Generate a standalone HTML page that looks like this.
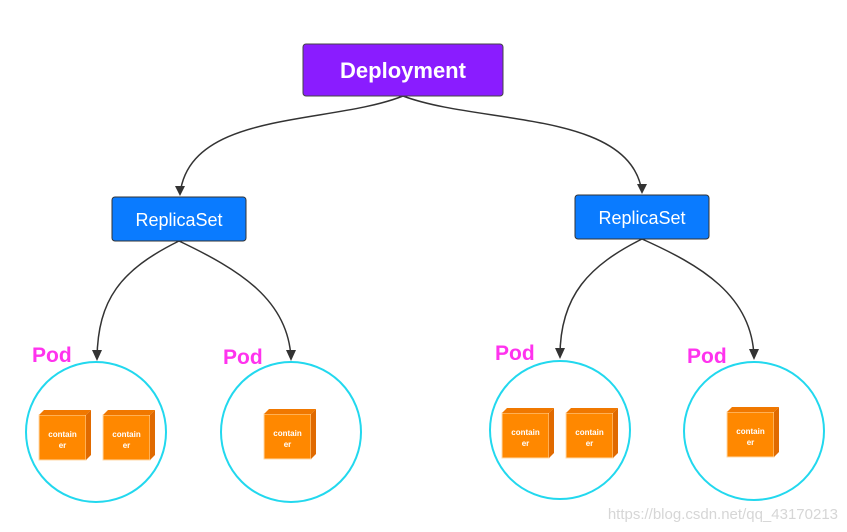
<!DOCTYPE html>
<html><head><meta charset="utf-8"><style>
html,body{margin:0;padding:0;background:#fff;}
svg{display:block;}
text{font-family:"Liberation Sans",sans-serif;}
</style></head><body>
<svg width="847" height="532" viewBox="0 0 847 532" xmlns="http://www.w3.org/2000/svg">
<defs>
<marker id="a" markerWidth="10" markerHeight="10" refX="5" refY="9" orient="auto" markerUnits="userSpaceOnUse" viewBox="0 0 10 10">
<path d="M0,0 L5,10 L10,0 L5,3 Z" fill="#333" transform="rotate(0)"/>
</marker>
<g id="c">
<rect x="0" y="5" width="47" height="45" fill="#ff8800" stroke="#ffd9a8" stroke-width="1"/>
<polygon points="0,5 5,0 52,0 47,5" fill="#f07800"/>
<polygon points="47,5 52,0 52,45 47,50" fill="#e06a00"/>
<text x="23.5" y="27" font-size="8" font-weight="bold" fill="#fff" text-anchor="middle">contain</text>
<text x="23.5" y="38" font-size="8" font-weight="bold" fill="#fff" text-anchor="middle">er</text>
</g>
</defs>
<g fill="none" stroke="#333" stroke-width="1.5">
<path d="M403,96 C330,125 190,110 180,194"/>
<path d="M403,96 C480,125 630,110 642,192"/>
<path d="M179,241 C120,270 98,300 97,358"/>
<path d="M179,241 C240,270 288,300 291,358"/>
<path d="M642,239 C590,265 560,295 560,356"/>
<path d="M642,239 C700,265 752,295 754,357"/>
</g>
<g fill="#333">
<path d="M175,186 L180,196 L185,186 Z"/>
<path d="M637,184 L642,194 L647,184 Z"/>
<path d="M92,350 L97,361 L102,350 Z"/>
<path d="M286,350 L291,361 L296,350 Z"/>
<path d="M555,348 L560,359 L565,348 Z"/>
<path d="M749,349 L754,360 L759,349 Z"/>
</g>
<rect x="303" y="44" width="200" height="52" rx="3" fill="#8a1cff" stroke="#444" stroke-width="1"/>
<text x="403" y="78" font-size="22" font-weight="bold" fill="#fff" text-anchor="middle">Deployment</text>
<rect x="112" y="197" width="134" height="44" rx="3" fill="#0a7bff" stroke="#333" stroke-width="1"/>
<text x="179" y="226" font-size="18" fill="#fff" text-anchor="middle">ReplicaSet</text>
<rect x="575" y="195" width="134" height="44" rx="3" fill="#0a7bff" stroke="#333" stroke-width="1"/>
<text x="642" y="224" font-size="18" fill="#fff" text-anchor="middle">ReplicaSet</text>
<g fill="none" stroke="#22d8ee" stroke-width="2">
<ellipse cx="96" cy="432" rx="70" ry="70"/>
<ellipse cx="291" cy="432" rx="70" ry="70"/>
<ellipse cx="560" cy="430" rx="70" ry="69"/>
<ellipse cx="754" cy="431" rx="70" ry="69"/>
</g>
<g font-size="21" font-weight="bold" fill="#ff33ee">
<text x="32" y="362">Pod</text>
<text x="223" y="364">Pod</text>
<text x="495" y="360">Pod</text>
<text x="687" y="363">Pod</text>
</g>
<use href="#c" x="39" y="410"/>
<use href="#c" x="103" y="410"/>
<use href="#c" x="264" y="409"/>
<use href="#c" x="502" y="408"/>
<use href="#c" x="566" y="408"/>
<use href="#c" x="727" y="407"/>
<text x="838" y="519" font-size="15" fill="#d6d6d6" text-anchor="end">https://blog.csdn.net/qq_43170213</text>
</svg>
</body></html>
